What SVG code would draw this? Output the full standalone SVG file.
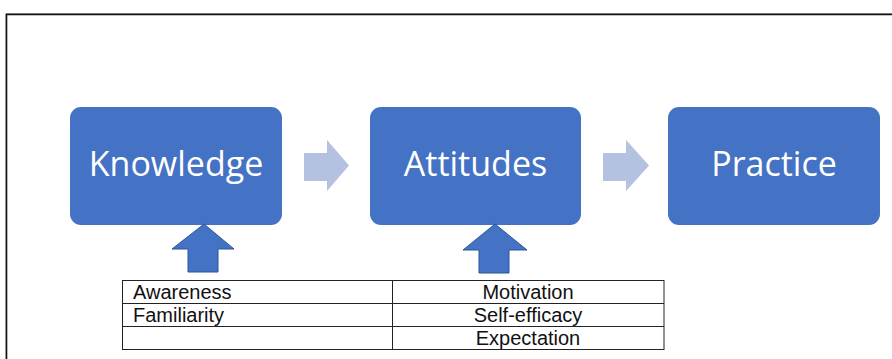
<svg xmlns="http://www.w3.org/2000/svg" width="892" height="359" viewBox="0 0 892 359">
  <style>
    .box { fill: #4472C4; }
    .box-label { font-family: "Open Sans", "Noto Sans", sans-serif; font-size: 34px; fill: #FFFFFF; text-anchor: middle; }
    .flow { fill: #B4C1E1; }
    .up { fill: #4472C4; stroke: #2F5597; stroke-width: 1; }
    .cell { fill: none; stroke: #222222; stroke-width: 1; }
    .cell-text { font-family: "Liberation Sans", Arial, sans-serif; font-size: 20px; fill: #111111; }
    .center { text-anchor: middle; }
  </style>

  <rect width="892" height="359" fill="#FFFFFF"/>

  <!-- outer frame (open to the right and bottom) -->
  <path d="M6 360 V13.5 H893" fill="none" stroke="#9A9A9A" stroke-width="1"/>
  <path d="M6.5 360 V14.5 H893" fill="none" stroke="#111111" stroke-width="1.6"/>

  <g id="knowledge">
    <rect class="box" x="70" y="107" width="212" height="118" rx="11"/>
    <text class="box-label" x="176" y="176">Knowledge</text>
  </g>

  <g id="attitudes">
    <rect class="box" x="370" y="107" width="211" height="118" rx="11"/>
    <text class="box-label" x="475.5" y="176">Attitudes</text>
  </g>

  <g id="practice">
    <rect class="box" x="668" y="107" width="212" height="118" rx="11"/>
    <text class="box-label" x="774" y="176">Practice</text>
  </g>

  <g id="connectors">
    <!-- flow arrows between stages -->
    <polygon class="flow" points="304,153 327,153 327,140 349,165.5 327,191 327,181 304,181"/>
    <polygon class="flow" points="603,153 626,153 626,140 649,165.5 626,191 626,181 603,181"/>
    <!-- upward arrows from the factor table -->
    <polygon class="up" points="204,224 234,249 218,249 218,272 188,272 188,249 172,249"/>
    <polygon class="up" points="495,224 527,250 509,250 509,273 479,273 479,250 463,250"/>
  </g>

  <g id="factors">
    <rect class="cell" x="122.5" y="280.5" width="541.5" height="69"/>
    <line class="cell" x1="122.5" y1="303.5" x2="664" y2="303.5"/>
    <line class="cell" x1="122.5" y1="326.5" x2="664" y2="326.5"/>
    <line class="cell" x1="392.5" y1="280.5" x2="392.5" y2="349.5"/>
    <text class="cell-text" x="133" y="298.5">Awareness</text>
    <text class="cell-text" x="133" y="321.5">Familiarity</text>
    <text class="cell-text center" x="528" y="298.5">Motivation</text>
    <text class="cell-text center" x="528" y="321.5">Self-efficacy</text>
    <text class="cell-text center" x="528" y="344.5">Expectation</text>
  </g>
</svg>
